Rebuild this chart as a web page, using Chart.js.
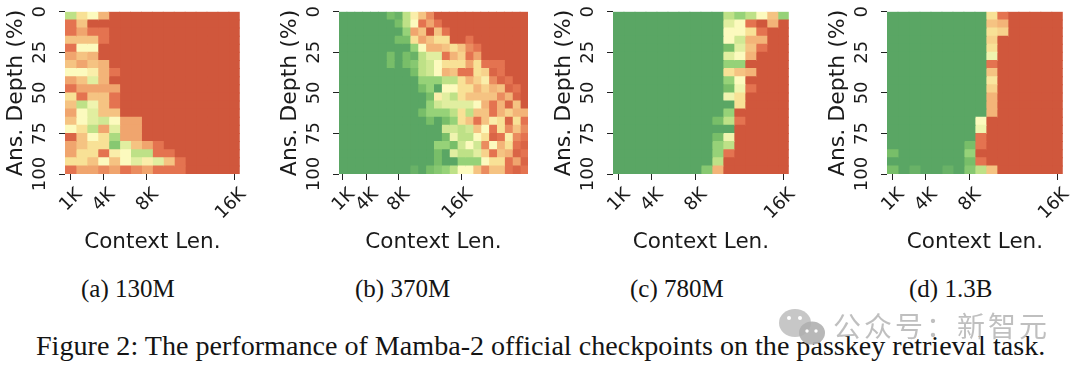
<!DOCTYPE html>
<html><head><meta charset="utf-8">
<style>
html,body{margin:0;padding:0;background:#fff;width:1080px;height:370px;overflow:hidden}
canvas{position:absolute;top:0}
.cap{position:absolute;font-family:"Liberation Serif",serif;color:#141414;white-space:nowrap;line-height:1}
#mark{position:absolute;left:833px;top:310px;font:28px "Noto Sans CJK SC";color:#b9b9b9;letter-spacing:3px;white-space:nowrap;line-height:1.1;opacity:.9}
svg{position:absolute;left:0;top:0}
</style></head><body>
<canvas id="c0"></canvas><canvas id="c1"></canvas><canvas id="c2"></canvas><canvas id="c3"></canvas>
<div class="cap" style="left:81px;top:276px;font-size:25px">(a) 130M</div>
<div class="cap" style="left:355px;top:276px;font-size:25px">(b) 370M</div>
<div class="cap" style="left:630px;top:276px;font-size:25px">(c) 780M</div>
<div class="cap" style="left:909px;top:276px;font-size:25px">(d) 1.3B</div>
<div class="cap" style="left:36px;top:332px;font-size:28.1px" id="fig">Figure 2: The performance of Mamba-2 official checkpoints on the passkey retrieval task.</div>
<svg width="1080" height="370"><ellipse cx="795" cy="323" rx="16" ry="14" fill="#bdbdbd" opacity=".85"/><ellipse cx="812" cy="333" rx="13" ry="11.5" fill="#b0b0b0" opacity=".9"/><circle cx="789" cy="318" r="2" fill="#fff"/><circle cx="800" cy="318" r="2" fill="#fff"/><circle cx="807" cy="331" r="1.7" fill="#fff"/><circle cx="816" cy="331" r="1.7" fill="#fff"/></svg>
<div id="mark">公众号：新智元</div>
<script src="https://cdn.jsdelivr.net/npm/chart.js@4"></script>
<script>
const panelTitles = ['(a) 130M','(b) 370M','(c) 780M','(d) 1.3B'];
const depthTicks = [0,25,50,75,100];
const contextTickLabels = ['1K','4K','8K','16K'];
const contextTickColumns = [0,3,7,15];
// accuracy per cell on a 0 (red) to 10 (green) reading; rows are answer depth, columns context length
const panelA = [
[7,4,5,2.5,0,0,0,0,0,0,0,0,0,0,0,0],
[1,3,0,0,0,0,0,0,0,0,0,0,0,0,0,0],
[1,2,1,1,0,0,0,0,0,0,0,0,0,0,0,0],
[3,3,3,1,0,0,0,0,0,0,0,0,0,0,0,0],
[1,5,5,0,0,0,0,0,0,0,0,0,0,0,0,0],
[2,3,2.5,0,0,0,0,0,0,0,0,0,0,0,0,0],
[3,2,3,2.5,0,0,0,0,0,0,0,0,0,0,0,0],
[5,5,4.5,2.5,1,0,0,0,0,0,0,0,0,0,0,0],
[2,3,6,2.5,0,0,0,0,0,0,0,0,0,0,0,0],
[1,2,2,2,2,0,0,0,0,0,0,0,0,0,0,0],
[4,1,3,3,1,0,0,0,0,0,0,0,0,0,0,0],
[3,7,5.5,3,1,0,0,0,0,0,0,0,0,0,0,0],
[2,5,6,3,3,0,0,0,0,0,0,0,0,0,0,0],
[3,5,6,6.5,5,2,2,0,0,0,0,0,0,0,0,0],
[5,4,7,2,6,2,2,0,0,0,0,0,0,0,0,0],
[0.5,3,5,4,7.5,2,2,0,0,0,0,0,0,0,0,0],
[2,3,4,4,8.5,6,3,2,1,0,0,0,0,0,0,0],
[2,4,4,1,4.5,5,7,7,1,1,0,0,0,0,0,0],
[4,4,3,5,3,5,6,4.5,6,3,1,0,0,0,0,0],
[1,2,2,1.5,2,1,1.5,2,1,1,1,0,0,0,0,0]];
const panelB = [
[10,10,10,10,10,10,9,9.5,7,4.5,3,1.5,0,0,0,0,0,0,0,0,0,0,0,0],
[10,10,10,10,10,10,10,9,7,5,1,2,1,0,0,0,0,0,0,0,0,0,0,0],
[10,10,10,10,10,10,10,10,8,2,3,0,3,1,0,0,0,0,0,0,0,0,0,0],
[10,10,10,10,10,10,10,9,9,4,2,3,4,4,0,0,1,0,0,0,0,0,0,0],
[10,10,10,10,10,10,10,10,10,8,5,2.5,2.5,3,4,3,1.5,1,0,0,0,0,0,0],
[10,10,10,10,10,10,9,10,9,9.5,7,6,6,1,2.5,3.5,1,2,0,0,0,0,0,0],
[10,10,10,10,10,10,9,10,9,8.5,7,6.5,5,4,4,4,2,4,1,1,1,0,0,0],
[10,10,10,10,10,10,10,10,10,9,7,6.5,5,2.5,3,1,1,4,3.5,0.5,1,0,0,0],
[10,10,10,10,10,10,10,10,10,10,8,8,8,7,7,4,2.5,3.5,4.5,1.5,0.5,1,0,0],
[10,10,10,10,10,10,10,10,10,10,9,8,10,5,5,4,4,2.5,3.5,2.5,3,0.5,1,0],
[10,10,10,10,10,10,10,10,10,10,10,9,4.5,6,7,4,3,3,3,3,1.5,2.5,0.5,0],
[10,10,10,10,10,10,10,10,10,10,10,8,6.5,6,6,6,6,5,2.5,1,2.5,0.5,3,0],
[10,10,10,10,10,10,10,10,10,10,9,8,8,8,7,4,7,3,3,1,2.5,3.5,2.5,2.5],
[10,10,10,10,10,10,10,10,10,10,10,9,10,9,8,4,3,1,3,4.5,4,0.5,4,1],
[10,10,10,10,10,10,10,10,10,10,10,10,10,6.5,6.5,7,6.5,3,5,1,4,1.5,3,1.5],
[10,10,10,10,10,10,10,10,10,10,10,10,10,9,5.5,7,7,5,4,0.5,1,4.5,1.5,1],
[10,10,10,10,10,10,10,10,10,10,10,10,8,8,9,6.5,5,6.5,1.5,5,2.5,4,1,0.5],
[10,10,10,10,10,10,10,10,10,10,10,10,9,10,6,7,7,6,3.5,1,3,2.5,0.5,1],
[10,10,10,10,10,10,10,10,10,10,10,10,9,10,10,8,8,8,5,4,4,1,2,0.5],
[10,10,10,10,10,10,10,10,10,9.5,10,9,8.5,8,7,5,5,3,1.5,3,3,1,0.5,1]];
const panelC = [
[10,10,10,10,10,10,10,10,10,10,7,8,7,5,3,8],
[10,10,10,10,10,10,10,10,10,10,6,5,1,0,2.5,0],
[10,10,10,10,10,10,10,10,10,10,5,5,4,1,0,0],
[10,10,10,10,10,10,10,10,10,10,5,6.5,2.5,2.5,0,0],
[10,10,10,10,10,10,10,10,10,10,9,6,3,1,0,0],
[10,10,10,10,10,10,10,10,10,10,6,5,2.5,0,0,0],
[10,10,10,10,10,10,10,10,10,10,8,8,0,0,0,0],
[10,10,10,10,10,10,10,10,10,10,4,3,2.5,0,0,0],
[10,10,10,10,10,10,10,10,10,10,8,5,0,0,0,0],
[10,10,10,10,10,10,10,10,10,10,9,5.5,1,0,0,0],
[10,10,10,10,10,10,10,10,10,10,5.5,4,0,0,0,0],
[10,10,10,10,10,10,10,10,10,10,10,4,0,0,0,0],
[10,10,10,10,10,10,10,10,10,10,8,0,0,0,0,0],
[10,10,10,10,10,10,10,10,10,9,7,1,0,0,0,0],
[10,10,10,10,10,10,10,10,10,10,10,0,0,0,0,0],
[10,10,10,10,10,10,10,10,10,9,5.5,0,0,0,0,0],
[10,10,10,10,10,10,10,10,10,8,7,0,0,0,0,0],
[10,10,10,10,10,10,10,10,10,8,1,0,0,0,0,0],
[10,10,10,10,10,10,10,10,10,7,0,0,0,0,0,0],
[10,10,10,10,10,10,10,10,8.5,2.5,0,0,0,0,0,0]];
const panelD = [
[10,10,10,10,10,10,10,10,10,4,1,0,0,0,0,0],
[10,10,10,10,10,10,10,10,10,3,2.5,0,0,0,0,0],
[10,10,10,10,10,10,10,10,10,4,3.5,0,0,0,0,0],
[10,10,10,10,10,10,10,10,10,3.5,0,0,0,0,0,0],
[10,10,10,10,10,10,10,10,10,4,0,0,0,0,0,0],
[10,10,10,10,10,10,10,10,10,5.5,0,0,0,0,0,0],
[10,10,10,10,10,10,10,10,10,1,0,0,0,0,0,0],
[10,10,10,10,10,10,10,10,10,3,0,0,0,0,0,0],
[10,10,10,10,10,10,10,10,10,4.2,0,0,0,0,0,0],
[10,10,10,10,10,10,10,10,10,3.5,0,0,0,0,0,0],
[10,10,10,10,10,10,10,10,10,2.5,0,0,0,0,0,0],
[10,10,10,10,10,10,10,10,10,2.5,0,0,0,0,0,0],
[10,10,10,10,10,10,10,10,10,2.5,0,0,0,0,0,0],
[10,10,10,10,10,10,10,10,5,0,0,0,0,0,0,0],
[10,10,10,10,10,10,10,10,5.5,0,0,0,0,0,0,0],
[10,10,10,10,10,10,10,10,1,0,0,0,0,0,0,0],
[10,10,10,10,10,10,10,9,1,0,0,0,0,0,0,0],
[9,10,10,10,10,10,10,8,0,0,0,0,0,0,0,0],
[10,10,10,10,10,10,10,9,1,0,0,0,0,0,0,0],
[9,10,9.5,10,10,9.5,10,8.5,7,3,0,0,0,0,0,0]];
const panels = [panelA,panelB,panelC,panelD];
const plotLeft = [65,339,613,887];
const plotRight = [240,528,789,1063];
const PLOT_TOP=11.5, PLOT_BOTTOM=174, CANVAS_H=255, Y_AXIS_W=62, RIGHT_PAD=14;
const ramp = [[208,87,60],[228,115,80],[240,165,110],[245,195,130],[248,225,150],[252,250,190],[225,238,160],[190,225,135],[150,210,120],[120,190,105],[90,166,100]];
function colour(v){const i=Math.min(9,Math.floor(v)),t=v-i;const a=ramp[i],b=ramp[i+1];
  return 'rgb('+a.map((c,k)=>Math.round(c+(b[k]-c)*t)).join(',')+')';}
Chart.defaults.font.family='"DejaVu Sans"';
Chart.defaults.color='#1a1a1a';
panels.forEach((rows,p)=>{
  const cv=document.getElementById('c'+p);
  const cols=rows[0].length, step=100/rows.length;
  const left=plotLeft[p]-Y_AXIS_W;
  cv.style.left=left+'px';
  cv.style.width=(plotRight[p]-left+RIGHT_PAD)+'px';cv.style.height=CANVAS_H+'px';
  cv.width=plotRight[p]-left+RIGHT_PAD;cv.height=CANVAS_H;
  const datasets=[];
  for(let k=0;k<cols;k++){
    datasets.push({data:rows.map((r,i)=>({x:[k,k+1],y:(i+.5)*step})),
      backgroundColor:rows.map(r=>colour(r[k])),borderWidth:0,barPercentage:1,categoryPercentage:1,grouped:false,inflateAmount:0.5});
  }
  new Chart(cv,{type:'bar',data:{datasets},options:{
    indexAxis:'y',responsive:false,animation:false,events:[],
    layout:{autoPadding:false,padding:{top:PLOT_TOP,right:RIGHT_PAD,left:0,bottom:0}},
    plugins:{legend:{display:false},tooltip:{enabled:false},title:{display:false}},
    scales:{
      x:{type:'linear',min:0,max:cols,offset:false,
        grid:{offset:false,drawOnChartArea:false,drawTicks:true,tickLength:6,color:'#222',tickWidth:1},border:{display:false},
        afterBuildTicks:s=>{s.ticks=contextTickColumns.map(c=>({value:c+.5}));},
        afterFit:s=>{s.height=CANVAS_H-PLOT_BOTTOM;},
        ticks:{autoSkip:false,minRotation:45,maxRotation:45,font:{size:18},padding:4,labelOffset:9,
          callback:(v)=>contextTickLabels[contextTickColumns.indexOf(v-.5)]},
        title:{display:true,text:'Context Len.',font:{size:21.5},padding:0}},
      y:{type:'linear',min:0,max:100,reverse:true,offset:false,
        grid:{offset:false,drawOnChartArea:false,drawTicks:true,tickLength:6,color:'#222',tickWidth:1},border:{display:false},
        afterBuildTicks:s=>{s.ticks=depthTicks.map(v=>({value:v}));},
        afterFit:s=>{s.width=Y_AXIS_W;},
        ticks:{autoSkip:false,minRotation:90,maxRotation:90,font:{size:18},padding:1,crossAlign:'center'},
        title:{display:true,text:'Ans. Depth (%)',font:{size:22},padding:0}}
    }}});
});
</script>
</body></html>
